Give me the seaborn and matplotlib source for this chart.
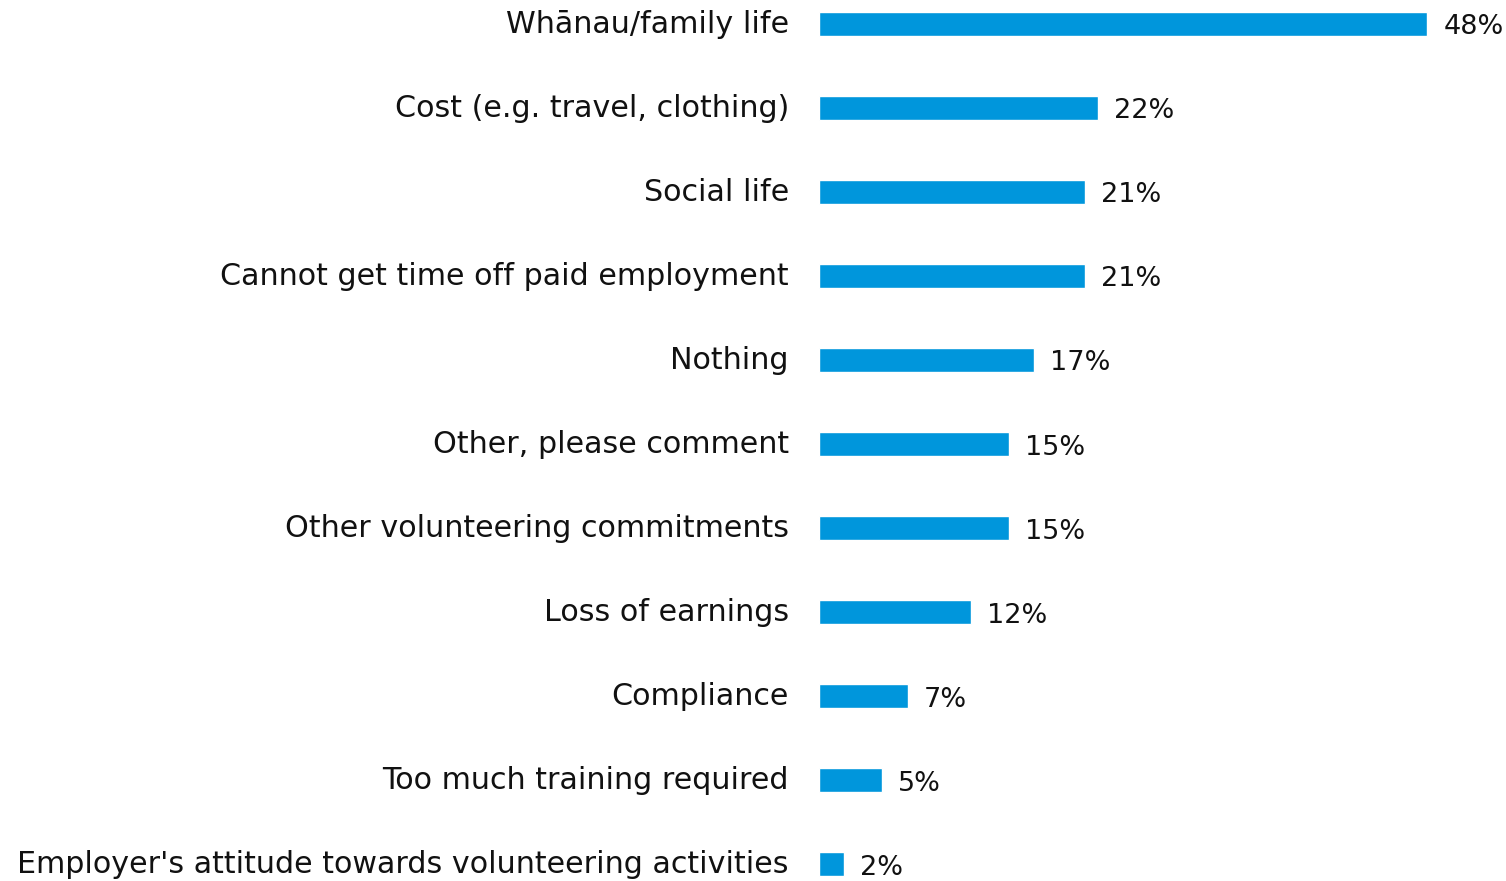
import matplotlib
matplotlib.use("Agg")
import matplotlib.pyplot as plt
import seaborn as sns
import pandas as pd

categories = [
    "Whānau/family life",
    "Cost (e.g. travel, clothing)",
    "Social life",
    "Cannot get time off paid employment",
    "Nothing",
    "Other, please comment",
    "Other volunteering commitments",
    "Loss of earnings",
    "Compliance",
    "Too much training required",
    "Employer's attitude towards volunteering activities",
]
values = [48, 22, 21, 21, 17, 15, 15, 12, 7, 5, 2]
value_labels = [f"{v}%" for v in values]

df = pd.DataFrame({"reason": categories, "pct": values})

sns.set_theme(style="white")
plt.rcParams["font.family"] = ["DejaVu Sans"]

fig = plt.figure(figsize=(15.06, 8.81), dpi=100)
ax = fig.add_axes([819 / 1506, 0, 687 / 1506, 1])

sns.barplot(data=df, x="pct", y="reason", color="#0096DC", width=0.286,
            saturation=1, ax=ax, orient="h")

ax.set_xlim(0, 54.2)
ax.set_ylim(10.202, -0.286)
ax.set_xlabel("")
ax.set_ylabel("")
ax.set_xticks([])
ax.tick_params(axis="y", length=0, pad=21.6, labelsize=21.7, labelcolor="#111111")
for lbl in ax.get_yticklabels():
    lbl.set_va("center")
for s in ax.spines.values():
    s.set_visible(False)

for bar, lab in zip(ax.patches, value_labels):
    ax.annotate(lab, (bar.get_width(), bar.get_y() + bar.get_height() / 2),
                xytext=(11.5, -2.5), textcoords="offset points",
                ha="left", va="center", fontsize=19.5, color="#111111")

fig.savefig("out.png", dpi=100)
